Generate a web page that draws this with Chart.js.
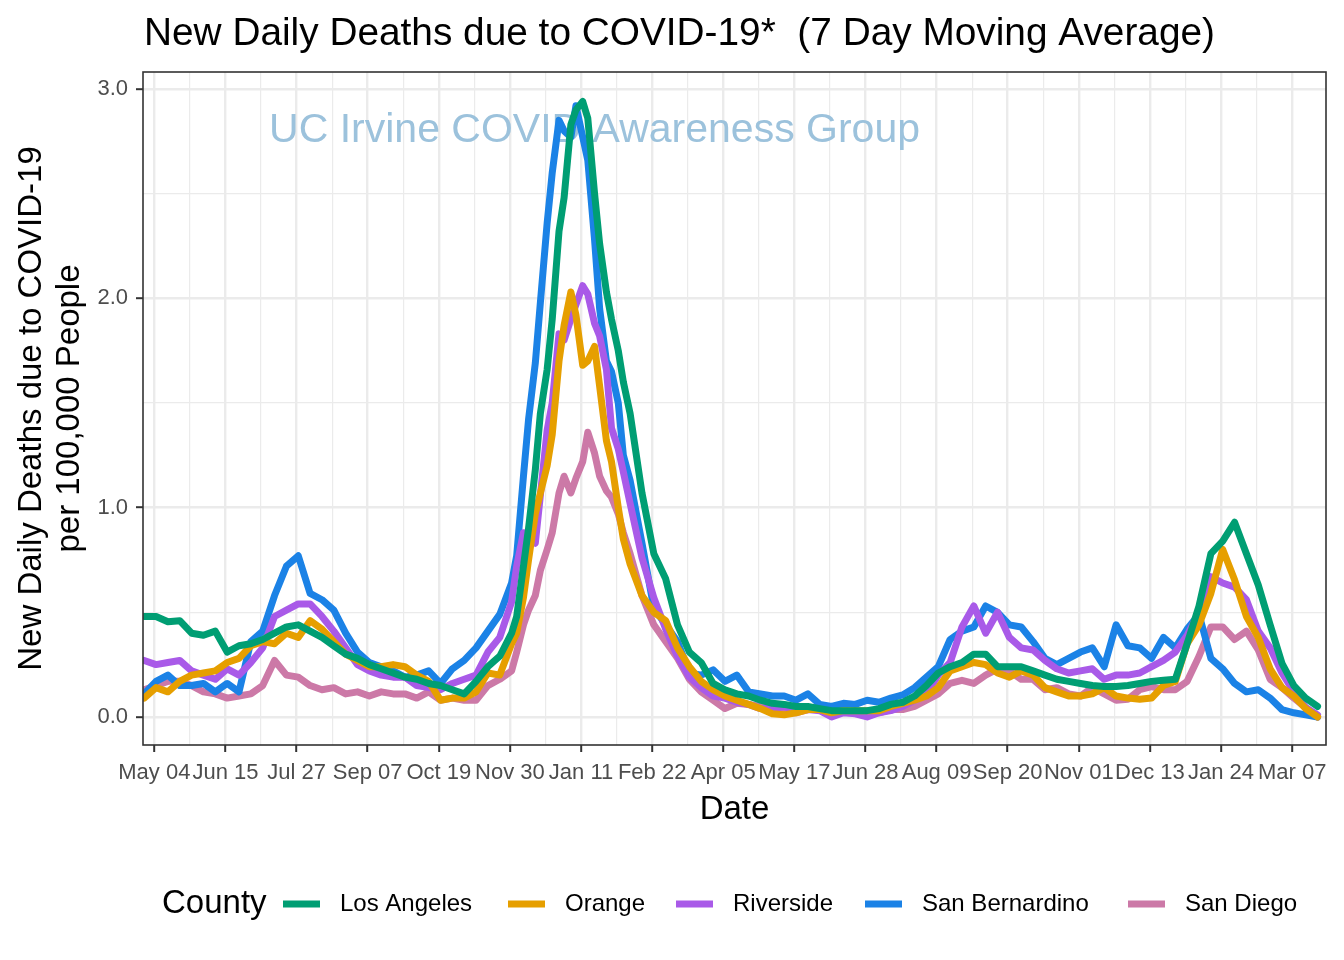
<!DOCTYPE html>
<html>
<head>
<meta charset="utf-8">
<script src="https://cdn.jsdelivr.net/npm/chart.js@4.4.1/dist/chart.umd.min.js"></script>
<style>
html,body{margin:0;padding:0;background:#ffffff;}
canvas{display:block;}
</style>
</head>
<body>
<canvas id="chart" width="1344" height="960"></canvas>
<script>
// ---------------- DATA ----------------
const dates = [
"2020-04-28","2020-05-05","2020-05-12","2020-05-19","2020-05-26","2020-06-02","2020-06-09","2020-06-16","2020-06-23","2020-06-30",
"2020-07-07","2020-07-14","2020-07-21","2020-07-28","2020-08-04","2020-08-11","2020-08-18","2020-08-25","2020-09-01","2020-09-08",
"2020-09-15","2020-09-22","2020-09-29","2020-10-06","2020-10-13","2020-10-20","2020-10-27","2020-11-03","2020-11-10","2020-11-17",
"2020-11-24","2020-12-01","2020-12-04","2020-12-08","2020-12-11","2020-12-15","2020-12-18","2020-12-22","2020-12-25","2020-12-29",
"2021-01-01","2021-01-05","2021-01-08","2021-01-12","2021-01-15","2021-01-19","2021-01-22","2021-01-26","2021-01-29","2021-02-02",
"2021-02-05","2021-02-09","2021-02-16","2021-02-23","2021-03-02","2021-03-09","2021-03-16","2021-03-23","2021-03-30","2021-04-06",
"2021-04-13","2021-04-20","2021-04-27","2021-05-04","2021-05-11","2021-05-18","2021-05-25","2021-06-01","2021-06-08","2021-06-15",
"2021-06-22","2021-06-29","2021-07-06","2021-07-13","2021-07-20","2021-07-27","2021-08-03","2021-08-10","2021-08-17","2021-08-24",
"2021-08-31","2021-09-07","2021-09-14","2021-09-21","2021-09-28","2021-10-05","2021-10-12","2021-10-19","2021-10-26","2021-11-02",
"2021-11-09","2021-11-16","2021-11-23","2021-11-30","2021-12-07","2021-12-14","2021-12-21","2021-12-28","2022-01-04","2022-01-11",
"2022-01-18","2022-01-25","2022-02-01","2022-02-08","2022-02-15","2022-02-22","2022-03-01","2022-03-08","2022-03-15","2022-03-22"
];

const losAngeles = [
0.48,0.48,0.455,0.46,0.40,0.39,0.41,0.31,0.34,0.35,
0.37,0.40,0.43,0.44,0.41,0.38,0.34,0.30,0.28,0.25,
0.23,0.21,0.19,0.18,0.16,0.15,0.13,0.11,0.17,0.24,
0.29,0.40,0.48,0.72,0.90,1.18,1.45,1.66,1.90,2.32,
2.48,2.83,2.90,2.94,2.86,2.50,2.26,2.03,1.90,1.75,
1.60,1.45,1.07,0.78,0.66,0.44,0.31,0.26,0.16,0.13,
0.11,0.10,0.08,0.065,0.06,0.05,0.05,0.04,0.03,0.03,
0.03,0.03,0.04,0.06,0.07,0.10,0.15,0.21,0.24,0.26,
0.30,0.30,0.24,0.24,0.24,0.22,0.20,0.18,0.17,0.16,
0.15,0.145,0.145,0.15,0.16,0.17,0.175,0.18,0.35,0.53,
0.78,0.84,0.93,0.78,0.63,0.44,0.256,0.15,0.09,0.05
];

const orange = [
0.09,0.14,0.12,0.17,0.20,0.21,0.22,0.26,0.28,0.34,
0.36,0.35,0.40,0.38,0.46,0.42,0.36,0.30,0.27,0.24,
0.24,0.25,0.24,0.20,0.17,0.08,0.09,0.09,0.12,0.21,
0.20,0.35,0.40,0.57,0.75,0.97,1.07,1.20,1.35,1.70,
1.87,2.03,1.92,1.68,1.70,1.77,1.58,1.32,1.22,1.00,
0.85,0.73,0.58,0.50,0.46,0.33,0.24,0.17,0.13,0.10,
0.08,0.06,0.04,0.015,0.01,0.02,0.035,0.035,0.02,0.03,
0.03,0.03,0.03,0.05,0.065,0.08,0.10,0.14,0.22,0.24,
0.26,0.25,0.21,0.19,0.22,0.20,0.14,0.12,0.10,0.10,
0.11,0.14,0.10,0.09,0.085,0.09,0.15,0.17,0.35,0.44,
0.59,0.80,0.655,0.48,0.38,0.23,0.14,0.10,0.04,0.0
];

const riverside = [
0.27,0.25,0.26,0.27,0.22,0.20,0.18,0.23,0.20,0.26,
0.33,0.48,0.51,0.54,0.54,0.48,0.41,0.33,0.25,0.22,
0.20,0.19,0.19,0.15,0.14,0.13,0.16,0.18,0.20,0.31,
0.38,0.55,0.72,0.88,0.86,0.83,1.06,1.37,1.50,1.83,
1.80,1.90,1.97,2.06,2.02,1.88,1.82,1.66,1.38,1.28,
1.17,1.02,0.76,0.57,0.42,0.29,0.19,0.14,0.10,0.09,
0.07,0.06,0.04,0.04,0.05,0.03,0.035,0.03,0.0,0.02,
0.015,0.0,0.02,0.03,0.05,0.08,0.11,0.20,0.26,0.43,
0.53,0.40,0.50,0.38,0.33,0.32,0.27,0.23,0.21,0.22,
0.23,0.18,0.20,0.20,0.21,0.24,0.27,0.31,0.39,0.50,
0.67,0.64,0.62,0.56,0.41,0.33,0.21,0.12,0.045,0.01
];

const sanBernardino = [
0.11,0.17,0.20,0.15,0.15,0.16,0.12,0.16,0.12,0.36,
0.41,0.58,0.72,0.77,0.59,0.56,0.51,0.40,0.31,0.26,
0.24,0.22,0.19,0.20,0.22,0.16,0.23,0.27,0.33,0.41,
0.49,0.64,0.77,1.15,1.42,1.69,1.98,2.36,2.60,2.85,
2.80,2.77,2.92,2.77,2.66,2.28,1.95,1.70,1.65,1.50,
1.25,1.13,0.83,0.52,0.44,0.36,0.21,0.20,0.225,0.17,
0.20,0.12,0.11,0.10,0.10,0.08,0.11,0.06,0.05,0.065,
0.06,0.08,0.07,0.09,0.105,0.14,0.19,0.24,0.37,0.41,
0.43,0.53,0.50,0.44,0.43,0.36,0.28,0.25,0.28,0.31,
0.33,0.24,0.44,0.34,0.33,0.28,0.38,0.33,0.42,0.49,
0.28,0.23,0.16,0.12,0.13,0.09,0.035,0.02,0.01,0.0
];

const sanDiego = [
0.13,0.15,0.17,0.17,0.15,0.12,0.11,0.09,0.10,0.11,
0.15,0.27,0.20,0.19,0.15,0.13,0.14,0.11,0.12,0.10,
0.12,0.11,0.11,0.09,0.12,0.08,0.09,0.08,0.08,0.15,
0.18,0.22,0.31,0.44,0.51,0.58,0.70,0.80,0.88,1.07,
1.15,1.07,1.14,1.22,1.36,1.26,1.15,1.08,1.05,0.97,
0.88,0.78,0.58,0.44,0.36,0.28,0.18,0.12,0.08,0.04,
0.065,0.06,0.05,0.04,0.02,0.02,0.035,0.05,0.03,0.035,
0.02,0.02,0.02,0.035,0.035,0.05,0.08,0.11,0.16,0.175,
0.16,0.20,0.23,0.22,0.18,0.18,0.13,0.14,0.11,0.10,
0.14,0.11,0.08,0.085,0.13,0.145,0.13,0.13,0.17,0.29,
0.43,0.43,0.37,0.41,0.32,0.18,0.14,0.09,0.045,0.0
];

const seriesNames = ["Los Angeles","Orange","Riverside","San Bernardino","San Diego"];
const seriesColors = ["#009E73","#E69F00","#A95AE8","#1B82E6","#CC79A7"];

const majorTickDates = ["2020-05-04","2020-06-15","2020-07-27","2020-09-07","2020-10-19","2020-11-30","2021-01-11","2021-02-22","2021-04-05","2021-05-17","2021-06-28","2021-08-09","2021-09-20","2021-11-01","2021-12-13","2022-01-24","2022-03-07"];
const majorTickLabels = ["May 04","Jun 15","Jul 27","Sep 07","Oct 19","Nov 30","Jan 11","Feb 22","Apr 05","May 17","Jun 28","Aug 09","Sep 20","Nov 01","Dec 13","Jan 24","Mar 07"];
const minorTickDates = ["2020-05-25","2020-07-06","2020-08-17","2020-09-28","2020-11-09","2020-12-21","2021-02-01","2021-03-15","2021-04-26","2021-06-07","2021-07-19","2021-08-30","2021-10-11","2021-11-22","2022-01-03","2022-02-14"];
const yMajorTicks = [0, 1, 2, 3];
const yMinorTicks = [0.5, 1.5, 2.5];

const titleText = "New Daily Deaths due to COVID-19*  (7 Day Moving Average)";
const xTitle = "Date";
const yTitle = ["New Daily Deaths due to COVID-19", "per 100,000 People"];
const legendTitle = "County";
const watermarkText = "UC Irvine COVID Awareness Group";
const watermarkDate = "2021-01-19";
const watermarkValue = 2.80;

// ---------------- HELPERS ----------------
const FAMILY = '"Liberation Sans", Arial, Helvetica, sans-serif';
const toDay = s => Date.UTC(+s.slice(0,4), +s.slice(5,7)-1, +s.slice(8,10)) / 86400000;
const xMin = toDay("2020-04-27") + 0.3;
const xMax = toDay("2022-03-27");
const yMin = -0.134, yMax = 3.081;

const seriesValues = [losAngeles, orange, riverside, sanBernardino, sanDiego];
const datasets = seriesValues.map((vals, i) => ({
  label: seriesNames[i],
  data: dates.map((d, j) => ({x: toDay(d), y: vals[j]})),
  borderColor: seriesColors[i],
  backgroundColor: seriesColors[i],
  borderWidth: 7,
  pointRadius: 0,
  tension: 0,
  borderJoinStyle: 'round',
  borderCapStyle: 'round',
  fill: false,
  clip: 0
}));

const labelMap = {};
majorTickDates.forEach((d, i) => { labelMap[toDay(d)] = majorTickLabels[i]; });

const isMajor = c => c.tick && c.tick.major;

const decoPlugin = {
  id: 'deco',
  beforeDatasetsDraw(chart) {
    const {ctx, scales: {x, y}} = chart;
    ctx.save();
    ctx.font = '41px ' + FAMILY;
    ctx.fillStyle = '#9CC2DC';
    ctx.textAlign = 'center';
    ctx.textBaseline = 'middle';
    ctx.fillText(watermarkText, x.getPixelForValue(toDay(watermarkDate)), y.getPixelForValue(watermarkValue));
    ctx.restore();
  },
  afterDatasetsDraw(chart) {
    const {ctx, chartArea: a} = chart;
    ctx.save();
    ctx.strokeStyle = '#333333';
    ctx.lineWidth = 1.6;
    ctx.strokeRect(a.left, a.top, a.right - a.left, a.bottom - a.top);
    ctx.restore();
  },
  afterDraw(chart) {
    const {ctx} = chart;
    ctx.save();
    // Title
    ctx.fillStyle = '#000000';
    ctx.font = '38.8px ' + FAMILY;
    ctx.textAlign = 'left';
    ctx.textBaseline = 'alphabetic';
    ctx.fillText(titleText, 144, 45);
    // Legend
    const legendY = 904;
    const keyX = [283, 508, 676, 865, 1128];
    ctx.textBaseline = 'middle';
    ctx.font = '33px ' + FAMILY;
    ctx.fillText(legendTitle, 162, legendY);
    ctx.font = '24px ' + FAMILY;
    seriesNames.forEach((name, i) => {
      ctx.fillStyle = seriesColors[i];
      ctx.fillRect(keyX[i], legendY - 3.5, 37, 7);
      ctx.fillStyle = '#000000';
      ctx.fillText(name, keyX[i] + 57, legendY);
    });
    ctx.restore();
  }
};

Chart.defaults.font.family = FAMILY;

new Chart(document.getElementById('chart'), {
  type: 'line',
  data: { datasets },
  options: {
    responsive: false,
    animation: false,
    devicePixelRatio: 1,
    events: [],
    layout: { padding: { top: 72, left: 0, right: 18, bottom: 115 } },
    plugins: { legend: { display: false }, title: { display: false }, tooltip: { enabled: false } },
    scales: {
      x: {
        type: 'linear',
        min: xMin,
        max: xMax,
        afterBuildTicks: (scale) => {
          const t = majorTickDates.map(d => ({value: toDay(d), major: true}))
            .concat(minorTickDates.map(d => ({value: toDay(d), major: false})));
          t.sort((a, b) => a.value - b.value);
          scale.ticks = t;
        },
        afterFit: (scale) => { scale.height = 100; },
        ticks: {
          autoSkip: false, maxRotation: 0, minRotation: 0,
          padding: 8,
          color: '#4D4D4D',
          font: { size: 22 },
          callback: (v) => labelMap[v] !== undefined ? labelMap[v] : ''
        },
        grid: {
          color: '#EBEBEB',
          lineWidth: c => isMajor(c) ? 2.4 : 1.2,
          drawTicks: true,
          tickLength: 7,
          tickColor: c => isMajor(c) ? '#333333' : 'rgba(0,0,0,0)',
          tickWidth: 2
        },
        border: { display: false },
        title: { display: true, text: xTitle, color: '#000000', font: { size: 33, lineHeight: 1.15 }, padding: { top: 0, bottom: 16 } }
      },
      y: {
        type: 'linear',
        min: yMin,
        max: yMax,
        afterBuildTicks: (scale) => {
          const t = yMajorTicks.map(v => ({value: v, major: true}))
            .concat(yMinorTicks.map(v => ({value: v, major: false})));
          t.sort((a, b) => a.value - b.value);
          scale.ticks = t;
        },
        afterFit: (scale) => { scale.width = 143; },
        ticks: {
          padding: 8,
          color: '#4D4D4D',
          font: { size: 22 },
          callback: (v) => yMajorTicks.includes(v) ? v.toFixed(1) : ''
        },
        grid: {
          color: '#EBEBEB',
          lineWidth: c => isMajor(c) ? 2.4 : 1.2,
          drawTicks: true,
          tickLength: 7,
          tickColor: c => isMajor(c) ? '#333333' : 'rgba(0,0,0,0)',
          tickWidth: 2
        },
        border: { display: false },
        title: { display: true, text: yTitle, color: '#000000', font: { size: 33, lineHeight: 1.15 }, padding: { top: 13, bottom: 0 } }
      }
    }
  },
  plugins: [decoPlugin]
});
</script>
</body>
</html>
